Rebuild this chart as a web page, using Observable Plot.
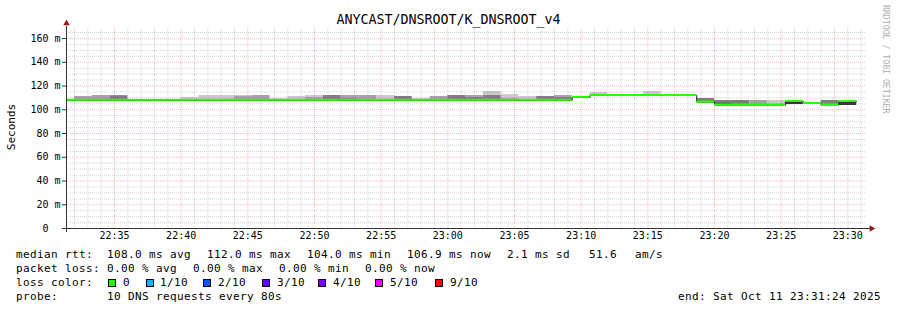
<!DOCTYPE html>
<html><head><meta charset="utf-8">
<script src="https://cdn.jsdelivr.net/npm/d3@7"></script>
<script src="https://cdn.jsdelivr.net/npm/@observablehq/plot@0.6"></script>
<style>
html,body{margin:0;padding:0;background:#fff;}
#chart{position:relative;width:897px;height:310px;overflow:hidden;}
</style></head><body><div id="chart"></div>
<script>
// ---------------- data ----------------
const title = "ANYCAST/DNSROOT/K_DNSROOT_v4";
const yLabel = "Seconds";
const credit = "RRDTOOL / TOBI OETIKER";
const firstStep = "2025-10-11T22:30:40";
const endTime = "2025-10-11T23:31:24";
const stepSeconds = 80;

// median rtt per 80 s step (ms)
const median = [
  108.0,
  108.0,108.0,108.0,108.0,108.0,108.0,108.0,108.0,108.0,108.0,
  108.0,108.0,108.0,108.0,108.0,108.0,108.0,108.0,108.0,108.0,
  108.0,108.0,108.0,108.0,108.0,108.0,108.0,108.0,110.4,112.0,
  112.0,112.0,112.0,112.0,112.0,106.5,104.0,104.0,104.0,104.0,
  107.0,105.3,104.1,106.9
];
// lost pings (of 10) per step
const loss = [
  0,
  0,0,0,0,0,0,0,0,0,0, 0,0,0,0,0,0,0,0,0,0,
  0,0,0,0,0,0,0,0,0,0, 0,0,0,0,0,0,0,0,0,0, 0,0,0,0
];
// smoke: [step, ping pair rank (1 = min/max .. 5 = innermost), low ms, high ms]
const smoke = [
  [1,2,107.8,111.2],[2,2,107.8,112.0],[3,2,107.8,112.0],[3,3,107.8,111.6],
  [4,1,107.6,108.4],[5,1,107.6,108.3],[6,1,107.7,108.4],[7,1,107.8,110.3],
  [8,1,107.8,112.0],[9,1,107.8,112.0],[10,1,107.8,112.0],[10,2,107.8,111.2],
  [11,2,107.8,112.0],[12,1,107.8,109.3],[13,1,107.8,111.2],[14,1,107.8,112.0],
  [14,2,107.8,110.3],[15,1,107.8,112.0],[15,3,108.6,112.0],[16,2,107.8,112.0],
  [16,3,107.8,109.3],[17,2,107.8,112.0],[18,1,107.8,112.0],[19,3,107.8,111.2],
  [20,3,107.8,109.0],[21,2,107.8,111.2],[22,3,107.8,112.0],[23,2,107.8,112.0],
  [23,3,107.8,110.3],[24,1,107.8,115.4],[24,3,107.8,112.0],[25,1,107.8,112.8],
  [25,2,107.8,109.5],[26,1,107.8,111.2],[27,3,107.8,111.2],[28,2,107.8,112.0],
  [28,3,107.8,110.3],[29,1,110.0,111.0],[30,1,112.0,114.5],[31,1,111.6,112.4],
  [32,1,111.6,112.4],[33,1,112.0,115.4],[34,1,111.6,112.4],[35,1,111.6,112.4],
  [36,3,106.5,109.5],[37,3,104.0,107.8],[37,4,104.0,105.5],[38,3,104.0,107.8],
  [39,2,104.0,107.8],[40,1,104.0,107.8],[41,5,104.4,107.0],[42,1,105.0,105.8],
  [43,3,104.1,107.8],[44,5,103.6,106.9]
];
const yTickValues = [0,20,40,60,80,100,120,140,160];
const yTickLabels = ["0\u00a0\u00a0","20 m","40 m","60 m","80 m","100 m","120 m","140 m","160 m"];
const xTickLabels = ["22:35","22:40","22:45","22:50","22:55","23:00","23:05","23:10","23:15","23:20","23:25","23:30"];

const rttLabel = "median rtt:";
const rttStats = ["108.0 ms avg","112.0 ms max","104.0 ms min","106.9 ms now","2.1 ms sd","51.6","am/s"];
const lossLabel = "packet loss:";
const lossStats = ["0.00 % avg","0.00 % max","0.00 % min","0.00 % now"];
const colorLabel = "loss color:";
const lossNames = ["0","1/10","2/10","3/10","4/10","5/10","9/10"];
const lossColors = ["#26ff00","#00b8ff","#0059ff","#5e00ff","#7e00ff","#dd00ff","#ff0000"];
const probeLabel = "probe:";
const probeText = "10 DNS requests every 80s";
const endText = "end: Sat Oct 11 23:31:24 2025";

// ---------------- layout ----------------
const W = 897, H = 310, mL = 66, mR = 31, mT = 27, mB = 82;
const yMax = 169.3;
const smokeGrays = ["#cacaca","#a4a4a4","#7e7e7e","#585858","#323232"];
const minorGrid = "rgba(128,128,128,0.34)";
const majorGrid = "rgba(255,0,0,0.28)";
const axisColor = "#333";
const arrowColor = "#a01010";
const mono = "DejaVu Sans Mono";

const t0 = new Date(firstStep);
const tEnd = new Date(endTime);
const tStart = new Date(+tEnd - 3600e3);
const stepMs = stepSeconds * 1000;
const clip = t => new Date(Math.max(+t, +tStart));
const steps = median.map((m, i) => ({
  t1: clip(new Date(+t0 + i * stepMs)), t2: new Date(+t0 + (i + 1) * stepMs), med: m, loss: loss[i]
}));
const medLine = steps.map(s => ({t: s.t1, v: s.med}));
medLine.push({t: steps[steps.length - 1].t2, v: steps[steps.length - 1].med});
const smokeRows = smoke.map(([i, level, lo, hi]) => ({
  t1: steps[i].t1, t2: steps[i].t2, level, lo, hi
}));
const half = yMax / (H - mT - mB); // one pixel in ms

const xTicks = xTickLabels.map(l => new Date(`2025-10-11T${l}:00`));
const minorX = d3.timeMinute.range(tStart, tEnd).filter(d => d.getMinutes() % 5 !== 0);
const minorY = d3.range(5, yMax, 5).filter(v => v % 20 !== 0);
const majorY = yTickValues.filter(v => v > 0);

const plot = Plot.plot({
  width: W, height: H,
  marginLeft: mL, marginRight: mR, marginTop: mT, marginBottom: mB,
  x: {type: "time", domain: [tStart, tEnd], axis: null},
  y: {domain: [0, yMax], axis: null},
  color: {type: "ordinal", domain: [1, 2, 3, 4, 5], range: smokeGrays},
  style: {background: "white", fontFamily: mono, color: "black"},
  marks: [
    Plot.rect(smokeRows, {x1: "t1", x2: "t2", y1: "lo", y2: "hi", fill: "level"}),
    Plot.ruleX(minorX, {stroke: minorGrid, strokeDasharray: "1,1"}),
    Plot.ruleY(minorY, {stroke: minorGrid, strokeDasharray: "1,1"}),
    Plot.ruleX(xTicks, {stroke: majorGrid, strokeDasharray: "1,1"}),
    Plot.ruleY(majorY, {stroke: majorGrid, strokeDasharray: "1,1"}),
    Plot.line(medLine, {x: "t", y: "v", curve: "step-after", stroke: "#202020", strokeWidth: 1}),
    Plot.rect(steps, {x1: "t1", x2: "t2", y1: d => d.med - half, y2: d => d.med + half,
      fill: d => lossColors[d.loss]}),
    Plot.ruleX([tStart], {stroke: axisColor, insetTop: -1, insetBottom: -4}),
    Plot.ruleY([0], {stroke: axisColor, insetLeft: -4, insetRight: -4}),
    Plot.ruleY(majorY, {x1: tStart, x2: tStart, insetLeft: -4, stroke: axisColor}),
    Plot.dot([0], {frameAnchor: "top-left", symbol: "triangle", r: 2.4, fill: arrowColor, stroke: "none", dy: -4}),
    Plot.dot([0], {frameAnchor: "bottom-right", symbol: "triangle", r: 2.4, rotate: 90, fill: arrowColor, stroke: "none", dx: 5}),
    Plot.text(xTicks, {x: d => d, frameAnchor: "bottom", dy: 10, text: (d, i) => xTickLabels[i],
      fontSize: 10, fill: "black"}),
    Plot.text(yTickValues, {y: d => d, frameAnchor: "left", dx: -6, textAnchor: "end",
      text: (d, i) => yTickLabels[i], fontSize: 10, fill: "black"})
  ]
});
document.getElementById("chart").appendChild(plot);

// ---------------- texts around the graph ----------------
const svg = d3.select(plot);
const g = svg.append("g").attr("font-family", mono).attr("fill", "black");
g.append("text").attr("x", 448.5).attr("y", 23.5).attr("text-anchor", "middle")
  .attr("font-size", 13.3).text(title);
g.append("text").attr("transform", "translate(15,127) rotate(-90)").attr("text-anchor", "middle")
  .attr("font-size", 11).text(yLabel);
g.append("text").attr("transform", "translate(883,5) rotate(90)").attr("text-anchor", "start")
  .attr("font-size", 8.2).attr("fill", "#b0b0b0").text(credit);

const lg = g.append("g").attr("font-size", 11).attr("letter-spacing", "0.38px")
  .attr("text-anchor", "start").style("white-space", "pre");
const put = (x, y, s) => lg.append("text").attr("x", x).attr("y", y).attr("text-anchor", "start").text(s);
const row = [258, 272, 286, 300];
put(16, row[0], rttLabel);
[107, 207, 307, 407, 507, 589, 635].forEach((x, i) => put(x, row[0], rttStats[i]));
put(16, row[1], lossLabel);
[107, 193, 279, 365].forEach((x, i) => put(x, row[1], lossStats[i]));
put(16, row[2], colorLabel);
const boxX = [108, 146, 203, 262, 318, 375, 435];
const labX = [123, 160, 218, 277, 333, 390, 450];
lossNames.forEach((n, i) => {
  lg.append("rect").attr("x", boxX[i] + 0.5).attr("y", 279.5).attr("width", 7).attr("height", 7)
    .attr("fill", lossColors[i]).attr("stroke", "#000").attr("stroke-width", 1);
  put(labX[i], row[2], n);
});
put(16, row[3], probeLabel);
put(107, row[3], probeText);
put(678, row[3], endText);
</script></body></html>
